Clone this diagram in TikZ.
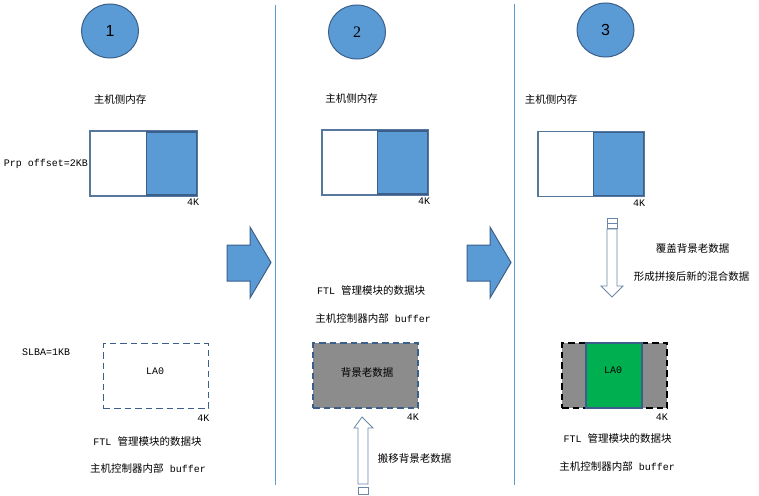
\documentclass[tikz,border=0pt]{standalone}
\usepackage{fontspec}
\setmainfont{Liberation Serif}
\setsansfont{Liberation Sans}
\newfontfamily\cjk{Noto Sans CJK SC}
\newfontfamily\mono{Liberation Mono}
\usetikzlibrary{positioning, shapes.geometric}
\definecolor{stepblue}{HTML}{5B9BD5}
\definecolor{edgeblue}{HTML}{3A5F8A}
\definecolor{olddata}{HTML}{8C8C8C}
\definecolor{newdata}{HTML}{00B050}
\newcommand{\zh}[1]{{\cjk\fontsize{10.5}{12}\selectfont #1}}

\begin{document}
\begin{tikzpicture}[x=1pt, y=-1pt,
    stepcircle/.style={ellipse, draw=edgeblue, line width=1pt, fill=stepblue,
      minimum width=57pt, minimum height=54pt, inner sep=0pt,
      font=\fontsize{16}{18}\selectfont},
    membox/.style={draw=edgeblue!85, line width=1.3pt, fill=white,
      minimum height=65pt, inner sep=0pt, outer sep=0pt},
    memused/.style={draw=edgeblue, line width=1.3pt, fill=stepblue,
      minimum width=50pt, minimum height=63pt, inner sep=0pt, anchor=east},
    bufbox/.style={dash pattern=on 6.5pt off 4pt, line width=1.8pt,
      minimum width=105pt, minimum height=65pt, inner sep=0pt},
    zhtext/.style={font=\cjk\fontsize{10.5}{12}\selectfont, inner sep=0pt},
    latin/.style={font=\mono\fontsize{10}{12}\selectfont, inner sep=0pt},
    bigarrow/.style={draw=edgeblue, line width=1pt, fill=stepblue},
    hollowarrow/.style={draw=edgeblue!75, line width=0.8pt, fill=white},
    divider/.style={draw=stepblue, line width=0.8pt}]
  \useasboundingbox (0,0) rectangle (759,495);

  % dividers between the three steps
  \draw[divider] (275,5) -- (275,485);
  \draw[divider] (514,4) -- (514,485);

  % step 1
  \node[stepcircle] (c1) at (110,31) {\sffamily 1};
  \node[zhtext] (host1) at (120,100) {主机侧内存};
  \node[membox, minimum width=107pt] (mem1) at (143.5,163.5) {};
  \node[memused] (used1) at (mem1.east) {};
  \node[latin, below=3pt of mem1.south east, xshift=-4pt] (k1) {4K};
  \node[latin, left=2pt of mem1] (prp) {Prp offset=2KB};
  \node[latin, anchor=west] (slba) at (22,352) {SLBA=1KB};
  \node[bufbox, draw=edgeblue] (buf1) at (156,376) {};
  \node[latin] (la1) at (155,371) {LA0};
  \node[latin, below=5pt of buf1.south east, xshift=-6pt] (kb1) {4K};
  \node[latin] (ftl1) at (147.5,441) {FTL \zh{管理模块的数据块}};
  \node[latin] (ctl1) at (148,468) {\zh{主机控制器内部} buffer};

  \draw[bigarrow] (227,245) -- (250,245) -- (250,227) -- (271,262.5)
    -- (250,298) -- (250,281) -- (227,281) -- cycle;

  % step 2
  \node[stepcircle] (c2) at (357,32) {2};
  \node[zhtext] (host2) at (351.5,99) {主机侧内存};
  \node[membox, minimum width=106pt] (mem2) at (375,162.5) {};
  \node[memused] (used2) at (mem2.east) {};
  \node[latin, below=3pt of mem2.south east, xshift=-4pt] (k2) {4K};
  \node[latin] (ftl2) at (371,291) {FTL \zh{管理模块的数据块}};
  \node[latin] (ctl2) at (373,318) {\zh{主机控制器内部} buffer};
  \node[bufbox, draw=edgeblue, fill=olddata] (buf2) at (365.5,375.5) {};
  \node[zhtext] (old2) at (367,373) {背景老数据};
  \node[latin, below=5pt of buf2.south east, xshift=-6pt] (kb2) {4K};
  \draw[hollowarrow] (362,417) -- (373,428) -- (368,428) -- (368,484)
    -- (358,484) -- (358,428) -- (354,428) -- cycle;
  \draw[hollowarrow] (358,487) rectangle (368,494);
  \node[zhtext] (move2) at (414.5,458) {搬移背景老数据};

  \draw[bigarrow] (467,245) -- (490,245) -- (490,227) -- (511,262.5)
    -- (490,298) -- (490,281) -- (467,281) -- cycle;

  % step 3
  \node[stepcircle] (c3) at (605.5,30) {\sffamily 3};
  \node[zhtext] (host3) at (551,100) {主机侧内存};
  \node[membox, minimum width=106pt] (mem3) at (591,164) {};
  \node[memused] (used3) at (mem3.east) {};
  \node[latin, below=3pt of mem3.south east, xshift=-5pt] (k3) {4K};
  \draw[hollowarrow] (607,218) rectangle (617,228);
  \draw[hollowarrow] (607,223) -- (617,223);
  \draw[hollowarrow] (607,229) -- (617,229) -- (617,286) -- (623,286)
    -- (612,297) -- (601,286) -- (607,286) -- cycle;
  \node[zhtext] (cover3) at (692.5,249) {覆盖背景老数据};
  \node[zhtext] (mix3) at (691.5,277) {形成拼接后新的混合数据};
  \node[bufbox, draw=black, fill=olddata] (buf3) at (614.5,375.5) {};
  \node[draw=edgeblue, line width=1.2pt, fill=newdata, minimum width=56pt,
    minimum height=65pt, inner sep=0pt] (new3) at (614,375.5) {};
  \node[latin] (la3) at (613,370) {LA0};
  \node[latin, below=5pt of buf3.south east, xshift=-6pt] (kb3) {4K};
  \node[latin] (ftl3) at (617.5,438) {FTL \zh{管理模块的数据块}};
  \node[latin] (ctl3) at (617,466) {\zh{主机控制器内部} buffer};
\end{tikzpicture}
\end{document}
